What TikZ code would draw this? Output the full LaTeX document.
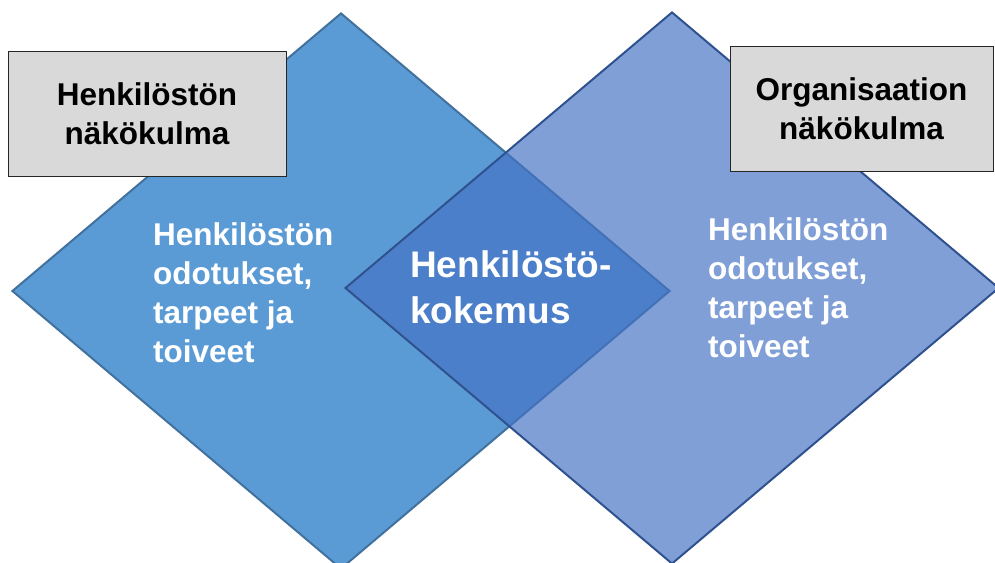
\documentclass[tikz,border=0pt]{standalone}
\usepackage{fontspec}
\setmainfont{Liberation Sans}
\usetikzlibrary{shapes.geometric}
\definecolor{leftblue}{HTML}{5B9BD5}
\definecolor{leftedge}{HTML}{41719C}
\definecolor{rightblue}{HTML}{4472C4}
\definecolor{rightedge}{HTML}{2F528F}
\definecolor{boxgray}{HTML}{D9D9D9}

\begin{document}
\begin{tikzpicture}[
x=1pt, y=-1pt,
dia/.style={shape=diamond, inner sep=0pt, line width=2pt},
viewbox/.style={draw=black!85, line width=1pt, fill=boxgray, minimum width=278pt, minimum height=125pt, align=center, inner sep=0pt, font=\fontsize{31.5}{39}\selectfont\bfseries},
bodytext/.style={text=white, align=left, inner sep=0pt, anchor=base west, font=\fontsize{31.5}{39}\selectfont\bfseries}
]
\useasboundingbox (0,0) rectangle (995,562);
\clip (0,0) rectangle (995,562);
\node[dia, draw=leftedge, fill=leftblue, minimum width=658pt, minimum height=556pt] (ld) at (341,291) {};
\node[dia, draw=rightedge, fill=rightblue, fill opacity=0.68, minimum width=654pt, minimum height=552pt] (rd) at (672,288) {};
\node[viewbox] (lb) at (147,113.5) {Henkilöstön\\näkökulma};
\node[viewbox, minimum width=263pt] (rb) at (861.5,108.5) {Organisaation\\näkökulma};
\node[bodytext] (lt) at (153,362) {Henkilöstön\\odotukset,\\tarpeet ja\\toiveet};
\node[bodytext] (rt) at (708,357) {Henkilöstön\\odotukset,\\tarpeet ja\\toiveet};
\node[bodytext, font=\fontsize{37}{46}\selectfont\bfseries] (ct) at (410,323) {Henkilöstö-\\kokemus};
\end{tikzpicture}
\end{document}
